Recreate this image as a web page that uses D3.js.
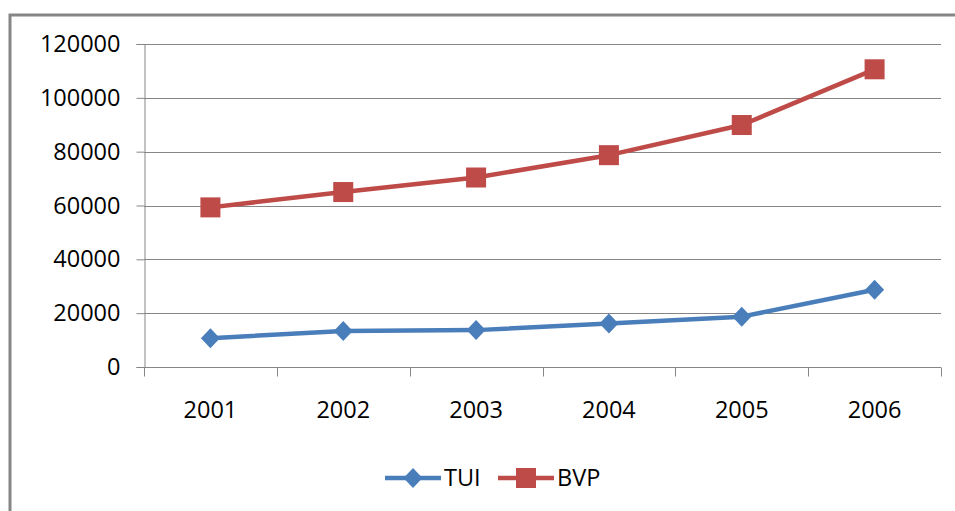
<!DOCTYPE html>
<html>
<head>
<meta charset="utf-8">
<script src="https://cdn.jsdelivr.net/npm/d3@7"></script>
<style>
  html, body { margin: 0; padding: 0; background: #fff; }
  svg { display: block; }
  .tick text { font-family: "Open Sans", sans-serif; font-size: 23.5px; fill: #000; }
  .legend text { font-family: "Open Sans", sans-serif; font-size: 23.5px; fill: #000; }
</style>
</head>
<body>
<div id="chart"></div>
<script>
const years = ['2001', '2002', '2003', '2004', '2005', '2006'];
const tuiValues = [10700, 13400, 13700, 16200, 18700, 28700];
const bvpValues = [59300, 65000, 70400, 78700, 89900, 110600];
const yTicks = [0, 20000, 40000, 60000, 80000, 100000, 120000];

const width = 955;
const height = 511;
const margin = { top: 44, right: 14, bottom: 144, left: 144 };

const svg = d3.select('#chart')
  .append('svg')
  .attr('width', width)
  .attr('height', height);

// outer frame, clipped at the right and bottom edges
svg.append('rect')
  .attr('x', 10)
  .attr('y', 15)
  .attr('width', width + 20)
  .attr('height', height + 20)
  .attr('fill', 'none')
  .attr('stroke', '#868686')
  .attr('stroke-width', 3);

const x = d3.scaleBand()
  .domain(years)
  .range([margin.left, width - margin.right]);

const y = d3.scaleLinear()
  .domain([0, 120000])
  .range([height - margin.bottom, margin.top]);

// gridlines
svg.append('g')
  .selectAll('line')
  .data(yTicks.filter(d => d > 0))
  .join('line')
  .attr('x1', margin.left)
  .attr('x2', width - margin.right)
  .attr('y1', d => Math.round(y(d)) + 0.5)
  .attr('y2', d => Math.round(y(d)) + 0.5)
  .attr('stroke', '#868686')
  .attr('stroke-width', 1);

const yAxis = svg.append('g')
  .attr('transform', `translate(${margin.left + 0.5},0)`)
  .call(d3.axisLeft(y).tickValues(yTicks).tickFormat(d3.format('d')).tickSize(8).tickPadding(16));

yAxis.select('.domain').attr('stroke', '#868686');
yAxis.selectAll('.tick line').attr('stroke', '#868686');

const xTickPositions = years.map(d => x(d)).concat([x.range()[1]]);
const xAxisG = svg.append('g')
  .attr('transform', `translate(0,${Math.round(y(0)) + 0.5})`);

xAxisG.append('line')
  .attr('x1', margin.left)
  .attr('x2', width - margin.right)
  .attr('stroke', '#868686');

xAxisG.selectAll('line.xt')
  .data(xTickPositions)
  .join('line')
  .attr('class', 'xt')
  .attr('x1', d => Math.round(d) + 0.5)
  .attr('x2', d => Math.round(d) + 0.5)
  .attr('y1', 0)
  .attr('y2', 9)
  .attr('stroke', '#868686');

xAxisG.selectAll('text')
  .data(years)
  .join('text')
  .attr('x', d => x(d) + x.bandwidth() / 2)
  .attr('y', 50)
  .attr('text-anchor', 'middle')
  .style('font-family', '"Open Sans", sans-serif')
  .style('font-size', '23.5px')
  .text(d => d);

const line = d3.line()
  .x((d, i) => x(years[i]) + x.bandwidth() / 2)
  .y(d => y(d));

const series = [
  { name: 'TUI', values: tuiValues, color: '#4a7ebb', marker: 'diamond' },
  { name: 'BVP', values: bvpValues, color: '#be4b48', marker: 'square' }
];

const drawMarker = (g, type, color) => {
  if (type === 'square') {
    g.append('rect')
      .attr('x', -10).attr('y', -10)
      .attr('width', 20).attr('height', 20)
      .attr('fill', color);
  } else {
    g.append('path')
      .attr('d', 'M0,-10L9.5,0L0,10L-9.5,0Z')
      .attr('fill', color);
  }
};

series.forEach(s => {
  svg.append('path')
    .datum(s.values)
    .attr('d', line)
    .attr('fill', 'none')
    .attr('stroke', s.color)
    .attr('stroke-width', 4.5)
    .attr('stroke-linejoin', 'round');

  s.values.forEach((v, i) => {
    const g = svg.append('g')
      .attr('transform', `translate(${x(years[i]) + x.bandwidth() / 2},${y(v)})`);
    drawMarker(g, s.marker, s.color);
  });
});

// legend
const legend = svg.append('g').attr('class', 'legend');
const legendItems = [
  { s: series[0], x0: 385 },
  { s: series[1], x0: 498 }
];
legendItems.forEach(({ s, x0 }) => {
  const g = legend.append('g').attr('transform', `translate(${x0},478)`);
  g.append('line')
    .attr('x1', 0).attr('x2', 56)
    .attr('stroke', s.color)
    .attr('stroke-width', 4.5);
  const m = g.append('g').attr('transform', 'translate(28,0)');
  drawMarker(m, s.marker, s.color);
  g.append('text')
    .attr('x', 59)
    .attr('y', 8)
    .text(s.name);
});
</script>
</body>
</html>
